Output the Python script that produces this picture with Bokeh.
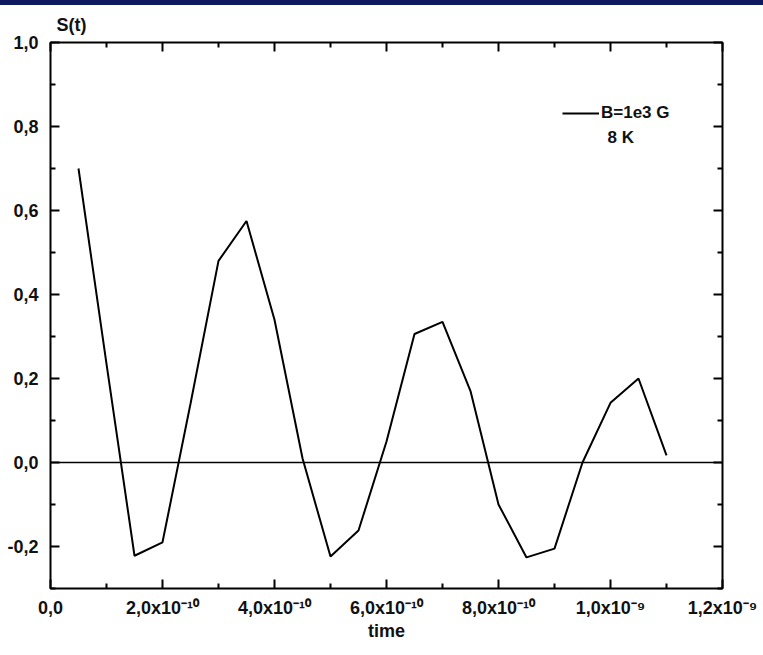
from bokeh.plotting import figure
from bokeh.models import (Range1d, FixedTicker, LinearAxis, Span, Label, Legend,
                          LegendItem, Div)
from bokeh.layouts import column
from bokeh.embed import file_html
from bokeh.resources import INLINE

# ---- data ----
time_s = [0.5e-10, 1.0e-10, 1.5e-10, 2.0e-10, 2.5e-10, 3.0e-10, 3.5e-10, 4.0e-10,
          4.5e-10, 5.0e-10, 5.5e-10, 6.0e-10, 6.5e-10, 7.0e-10, 7.5e-10, 8.0e-10,
          8.5e-10, 9.0e-10, 9.5e-10, 10.0e-10, 10.5e-10, 11.0e-10]
signal = [0.70, 0.235, -0.222, -0.19, 0.14, 0.48, 0.575, 0.34,
          0.01, -0.224, -0.162, 0.05, 0.306, 0.335, 0.17, -0.10,
          -0.226, -0.205, 0.0, 0.142, 0.20, 0.017]

x_major = [0.0, 2e-10, 4e-10, 6e-10, 8e-10, 1.0e-9, 1.2e-9]
x_minor = [1e-10, 3e-10, 5e-10, 7e-10, 9e-10, 1.1e-9]
x_labels = ["0,0", "2,0x10\u207b\u00b9\u2070", "4,0x10\u207b\u00b9\u2070",
            "6,0x10\u207b\u00b9\u2070", "8,0x10\u207b\u00b9\u2070",
            "1,0x10\u207b\u2079", "1,2x10\u207b\u2079"]
y_major = [-0.2, 0.0, 0.2, 0.4, 0.6, 0.8, 1.0]
y_minor = [-0.3, -0.1, 0.1, 0.3, 0.5, 0.7, 0.9]
y_labels = ["-0,2", "0,0", "0,2", "0,4", "0,6", "0,8", "1,0"]

legend_label = "B=1e3 G"
legend_sub = "8 K"
y_title = "S(t)"
x_title = "time"

FONT = "Liberation Sans"
INK = "#111111"
FS = "18px"
FS_LEG = "17px"

p = figure(width=763, height=650, output_backend="svg", toolbar_location=None,
           x_range=Range1d(0, 1.2e-9), y_range=Range1d(-0.3, 1.0),
           min_border_left=50, min_border_right=41, min_border_top=37,
           min_border_bottom=67, x_axis_type=None, y_axis_type=None)
p.grid.grid_line_color = None
p.outline_line_color = "black"
p.outline_line_width = 2
p.background_fill_color = "white"
p.border_fill_color = "white"

p.title.text = y_title
p.title.align = "left"
p.title.offset = 6
p.title.standoff = 15
p.title.text_font = FONT
p.title.text_font_style = "bold"
p.title.text_font_size = FS
p.title.text_color = INK

xt = FixedTicker(ticks=x_major, minor_ticks=x_minor)
yt = FixedTicker(ticks=y_major, minor_ticks=y_minor)


def style(ax):
    ax.axis_line_color = None
    ax.major_tick_in = 9
    ax.major_tick_out = 0
    ax.minor_tick_in = 5
    ax.minor_tick_out = 0
    ax.major_tick_line_width = 2
    ax.minor_tick_line_width = 2
    ax.major_tick_line_color = "black"
    ax.minor_tick_line_color = "black"
    ax.major_label_text_font = FONT
    ax.major_label_text_font_style = "bold"
    ax.major_label_text_font_size = FS
    ax.major_label_text_color = INK


xb = LinearAxis(ticker=xt, major_label_overrides=dict(zip(x_major, x_labels)),
                axis_label=x_title, axis_label_text_font=FONT,
                axis_label_text_font_style="bold", axis_label_text_font_size=FS,
                axis_label_text_color=INK, axis_label_standoff=0)
style(xb)
xb.major_label_standoff = 9
p.add_layout(xb, "below")

yl = LinearAxis(ticker=yt, major_label_overrides=dict(zip(y_major, y_labels)))
style(yl)
yl.major_label_standoff = 12
p.add_layout(yl, "left")

xa = LinearAxis(ticker=xt, major_label_overrides={v: "" for v in x_major})
style(xa)
xa.major_label_text_font_size = "1px"
xa.major_label_standoff = 0
p.add_layout(xa, "above")

yr = LinearAxis(ticker=yt, major_label_overrides={v: "" for v in y_major})
style(yr)
yr.major_label_text_font_size = "1px"
p.add_layout(yr, "right")

p.add_layout(Span(location=0, dimension="width", line_color="black", line_width=1.6))

r = p.line(time_s, signal, line_color="black", line_width=2)

legend = Legend(items=[LegendItem(label=legend_label, renderers=[r])],
                location=(512, 465), padding=0, margin=0, border_line_color=None,
                background_fill_alpha=0, glyph_width=37, glyph_height=20,
                label_standoff=2, label_text_font=FONT, label_text_font_style="bold",
                label_text_font_size=FS_LEG, label_text_color=INK)
p.add_layout(legend)

p.add_layout(Label(x=557, y=451, x_units="screen", y_units="screen", text=legend_sub,
                   text_baseline="middle", text_font=FONT, text_font_style="bold",
                   text_font_size=FS_LEG, text_color=INK))

stripe = Div(width=763, height=5, margin=(0, 0, 0, 0),
             styles={"background-color": "#0d1a5e"})

layout = column(stripe, p, spacing=0)
open("out.html", "w").write(file_html(layout, INLINE))
